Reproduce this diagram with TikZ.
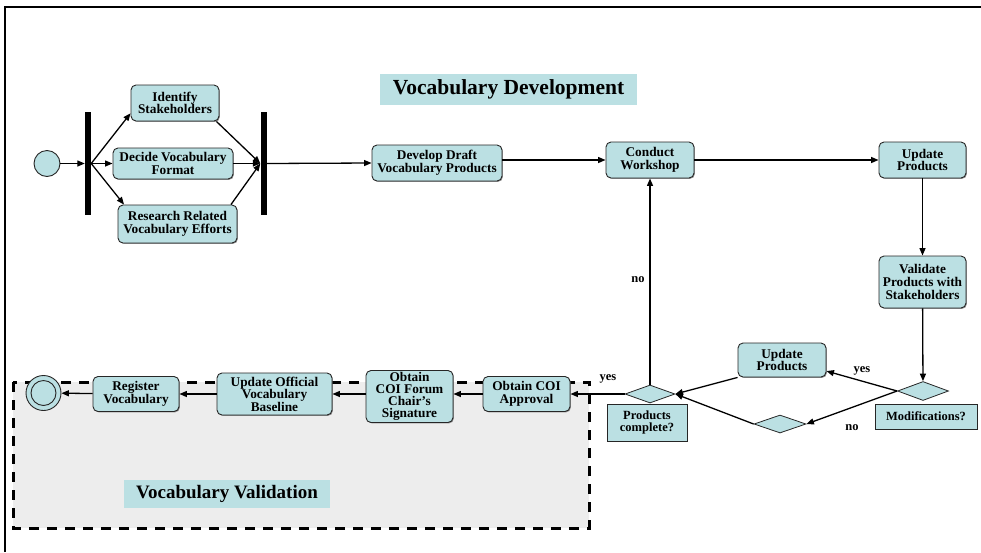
\documentclass[tikz,border=0pt]{standalone}
\usepackage{fontspec}
\setmainfont{Liberation Serif}
\usetikzlibrary{arrows.meta,shapes.geometric,shadows}
\definecolor{vocblue}{RGB}{187,224,227}
\definecolor{valgray}{RGB}{237,237,237}
\newcommand{\actfont}{\fontsize{13.3}{12.6}\selectfont\bfseries}
\newcommand{\decfont}{\fontsize{12.5}{12.5}\selectfont\bfseries}
\tikzset{
    act/.style = {draw = black!85, line width = 0.9pt, rounded corners = 5pt, fill = vocblue, align = center, font = \actfont, inner sep = 1pt, drop shadow = {shadow xshift = 0.9pt, shadow yshift = -0.9pt, fill = black!70, opacity = 0.6}},
    dec/.style = {diamond, draw = black!85, line width = 0.8pt, fill = vocblue, inner sep = 0pt},
    declabel/.style = {rectangle, draw = black!85, line width = 0.8pt, fill = vocblue, align = center, font = \decfont, inner sep = 1pt, drop shadow = {shadow xshift = 0.9pt, shadow yshift = -0.9pt, fill = black!70, opacity = 0.6}},
    bar/.style = {fill = black, minimum width = 6pt, minimum height = 103pt, inner sep = 0pt},
    flow/.style = {-{Triangle[length = 7.5pt, width = 6pt]}, line width = 1.3pt},
    lbl/.style = {font = \decfont, inner sep = 0pt},
    title/.style = {fill = vocblue, inner sep = 0pt}
}
\begin{document}
\begin{tikzpicture}[x = 1pt, y = -1pt]
    \useasboundingbox (0,0) rectangle (981,552);
    \draw[fill = valgray, line width = 3pt, dash pattern = on 10pt off 8pt] (13,382) rectangle (589,528);
    \draw[line width = 2pt] (5,552) -- (5,7) -- (981,7);

    \node[title, minimum width = 257pt, minimum height = 31pt, font = \fontsize{21.5}{24}\selectfont\bfseries] (devtitle) at (508.5,89.5) {Vocabulary Development};
    \node[title, minimum width = 206pt, minimum height = 28pt, font = \fontsize{19}{22}\selectfont\bfseries] (valtitle) at (227,494) {Vocabulary Validation};

    \node[circle, draw = black!85, line width = 0.9pt, fill = vocblue, minimum size = 26pt, inner sep = 0pt] (start) at (47,163.5) {};
    \node[bar] (fork) at (88,163.5) {};
    \node[act, minimum width = 88pt, minimum height = 36pt] (ident) at (175,103) {Identify\\Stakeholders};
    \node[act, minimum width = 120pt, minimum height = 31pt] (decide) at (173,163.5) {Decide Vocabulary\\Format};
    \node[act, minimum width = 119pt, minimum height = 38pt] (research) at (177.5,224) {Research Related\\Vocabulary Efforts};
    \node[bar] (join) at (263.5,163.5) {};
    \node[act, minimum width = 130pt, minimum height = 36pt] (draft) at (437,163) {Develop Draft\\Vocabulary Products};
    \node[act, minimum width = 88pt, minimum height = 36pt] (workshop) at (650,160) {Conduct\\Workshop};
    \node[act, minimum width = 87pt, minimum height = 36pt] (update) at (922.5,160) {Update\\Products};
    \node[act, minimum width = 87pt, minimum height = 52pt] (validate) at (922.5,282) {Validate\\Products with\\Stakeholders};
    \node[dec, minimum width = 51pt, minimum height = 19pt] (moddec) at (923,391) {};
    \node[declabel, minimum width = 102pt, minimum height = 25pt] (modlbl) at (926,416.5) {Modifications?};
    \node[act, minimum width = 88pt, minimum height = 34pt] (reupdate) at (782,360) {Update\\Products};
    \node[dec, minimum width = 52pt, minimum height = 18pt] (merge) at (780,424) {};
    \node[dec, minimum width = 50pt, minimum height = 18pt] (donedec) at (650,394) {};
    \node[declabel, minimum width = 80pt, minimum height = 37pt] (donelbl) at (647,422.5) {Products\\complete?};
    \node[act, minimum width = 87pt, minimum height = 35pt] (approval) at (526.5,394) {Obtain COI\\Approval};
    \node[act, minimum width = 87pt, minimum height = 52pt, inner sep = 0pt, font = \fontsize{13.3}{12.2}\selectfont\bfseries] (signature) at (409.5,396.5) {Obtain\\COI Forum\\Chair’s\\Signature};
    \node[act, minimum width = 115pt, minimum height = 42pt] (baseline) at (274.5,394) {Update Official\\Vocabulary\\Baseline};
    \node[act, minimum width = 86pt, minimum height = 35pt] (register) at (136,394) {Register\\Vocabulary};
    \node[circle, draw = black!85, line width = 0.9pt, fill = vocblue, minimum size = 35pt, inner sep = 0pt] (finish) at (43.5,393) {};
    \node[circle, draw = black!85, line width = 0.9pt, minimum size = 25pt, inner sep = 0pt] (finishin) at (finish) {};

    \node[lbl] (yesdone) at (608,379) {yes};
    \node[lbl] (nodone) at (638,280) {no};
    \node[lbl] (yesmod) at (862,371) {yes};
    \node[lbl] (nomod) at (852,428) {no};

    \draw[flow] (start) -- (fork);
    \draw[flow] (fork.east) -- (ident.193);
    \draw[flow] (fork.east) -- (decide.west);
    \draw[flow] (fork.east) -- (research.160);
    \draw[flow] (ident.336) -- (join.west);
    \draw[flow] (decide.east) -- (join.west);
    \draw[flow] (research.20) -- (join.west);
    \draw[flow] (join.east) -- (draft.west);
    \draw[flow] (draft.east |- workshop.west) -- (workshop.west);
    \draw[flow] (workshop) -- (update);
    \draw[flow] (update) -- (validate);
    \draw[flow] (validate) -- (moddec);
    \draw[flow] (moddec.west) -- (reupdate.346);
    \draw[flow] (moddec.west) -- (merge.east);
    \draw[flow] (merge.west) -- (donedec.east);
    \draw[flow] (reupdate.south west) -- (donedec.east);
    \draw[flow] (donedec.north) -- (workshop.south);
    \draw[flow] (donedec.west) -- (approval.east);
    \draw[flow] (approval.west) -- (signature.east |- approval.west);
    \draw[flow] (signature.west |- baseline.east) -- (baseline.east);
    \draw[flow] (baseline) -- (register);
    \draw[flow] (register) -- (finish);
\end{tikzpicture}
\end{document}
